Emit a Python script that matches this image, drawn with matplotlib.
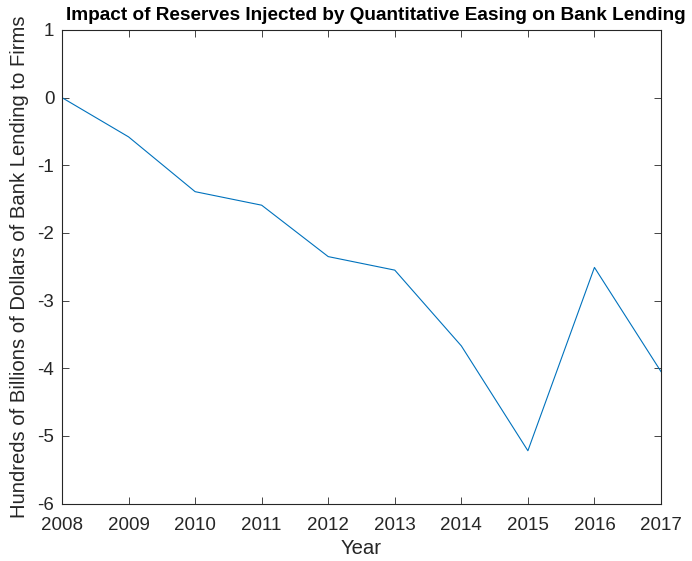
import matplotlib
matplotlib.use("Agg")
import matplotlib.pyplot as plt

years = [2008, 2009, 2010, 2011, 2012, 2013, 2014, 2015, 2016, 2017]
lending = [0.0, -0.58, -1.39, -1.59, -2.35, -2.55, -3.67, -5.22, -2.51, -4.05]
yticks = [1, 0, -1, -2, -3, -4, -5, -6]

plt.rcParams['font.family'] = ['Liberation Sans', 'DejaVu Sans']
plt.rcParams['axes.unicode_minus'] = False
axcol = '#262626'

fig = plt.figure(figsize=(6.92, 5.61), dpi=100)
L, R, T, B = 62, 661, 30, 503.5
ax = fig.add_axes([L/692, 1-B/561, (R-L)/692, (B-T)/561])
ax.plot(years, lending, color='#0072BD', linewidth=0.8)
ax.set_xlim(2008, 2017)
ax.set_ylim(-6, 1)
ax.set_xticks(years)
ax.set_yticks(yticks)
ax.tick_params(direction='in', length=5, width=0.6, colors=axcol, labelsize=13.5,
               top=True, right=True)
ax.tick_params(axis='x', pad=10)
ax.tick_params(axis='y', pad=5.5)
for s in ax.spines.values():
    s.set_color(axcol)
    s.set_linewidth(0.8)
ax.set_xlabel('Year', fontsize=14.6, color=axcol, va='center')
ax.set_ylabel('Hundreds of Billions of Dollars of Bank Lending to Firms', fontsize=14.6,
              color=axcol, va='center')
ax.xaxis.set_label_coords((361-L)/(R-L), (B-549)/(B-T))
ax.yaxis.set_label_coords((20-L)/(R-L), 0.5)
fig.text(376/692, 1-15/561, 'Impact of Reserves Injected by Quantitative Easing on Bank Lending',
         ha='center', va='center', fontsize=13.7, fontweight='bold', color='black')
fig.savefig('out.png', dpi=100)
